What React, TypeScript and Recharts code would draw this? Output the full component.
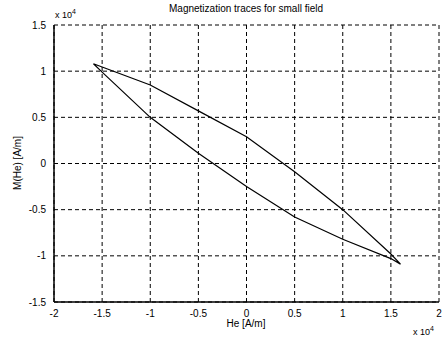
import { CartesianGrid, Line, LineChart, XAxis, YAxis } from "recharts";

// H values (x 10^4 A/m), traced around the loop from the top-left tip
const fieldH = [
  -1.59, -1.5, -1.0, -0.5, 0, 0.5, 1.0, 1.5, 1.6,
  1.5, 1.0, 0.5, 0, -0.5, -1.0, -1.5, -1.59,
];
// M values (x 10^4 A/m)
const magnetM = [
  1.08, 1.045, 0.85, 0.57, 0.29, -0.09, -0.5, -0.98, -1.09,
  -1.03, -0.82, -0.58, -0.25, 0.11, 0.5, 0.99, 1.08,
];

const xTicks = [-2, -1.5, -1, -0.5, 0, 0.5, 1, 1.5, 2];
const yTicks = [-1.5, -1, -0.5, 0, 0.5, 1, 1.5];

const data = fieldH.map((h, i) => ({ h, m: magnetM[i] }));

const font = "Arial, 'Liberation Sans', sans-serif";
const tickStyle = { fontSize: 10, fill: "#000", fontFamily: font };

export default function App() {
  return (
    <div style={{ position: "absolute", left: 0, top: 0, background: "#fff" }}>
      <LineChart
        width={447}
        height={341}
        data={data}
        margin={{ top: 25, right: 8, left: 22, bottom: 8 }}
      >
        <CartesianGrid stroke="#000" strokeDasharray="4 3" strokeWidth={1} />
        <XAxis
          dataKey="h"
          type="number"
          domain={[-2, 2]}
          ticks={xTicks}
          tick={tickStyle}
          tickLine={false}
          axisLine={{ stroke: "#000", strokeWidth: 1.5 }}
          tickFormatter={(v) => String(v)}
          height={31}
        />
        <YAxis
          type="number"
          domain={[-1.5, 1.5]}
          ticks={yTicks}
          tick={tickStyle}
          tickLine={false}
          axisLine={{ stroke: "#000", strokeWidth: 1.5 }}
          tickFormatter={(v) => String(v)}
          width={32}
          tickMargin={2}
        />
        <Line
          dataKey="m"
          type="linear"
          stroke="#000"
          strokeWidth={1.2}
          dot={false}
          isAnimationActive={false}
        />
        <text x={246} y={12} textAnchor="middle" fontSize={10} fontFamily={font}>
          Magnetization traces for small field
        </text>
        <text x={55} y={18} fontSize={9} fontFamily={font}>
          x 10<tspan dy={-4} fontSize={7}>4</tspan>
        </text>
        <text x={246} y={327} textAnchor="middle" fontSize={10} fontFamily={font}>
          He [A/m]
        </text>
        <text x={413} y={335} fontSize={9} fontFamily={font}>
          x 10<tspan dy={-4} fontSize={7}>4</tspan>
        </text>
        <text
          x={21}
          y={163}
          textAnchor="middle"
          fontSize={10}
          fontFamily={font}
          transform="rotate(-90 21 163)"
        >
          M(He) [A/m]
        </text>
      </LineChart>
    </div>
  );
}
